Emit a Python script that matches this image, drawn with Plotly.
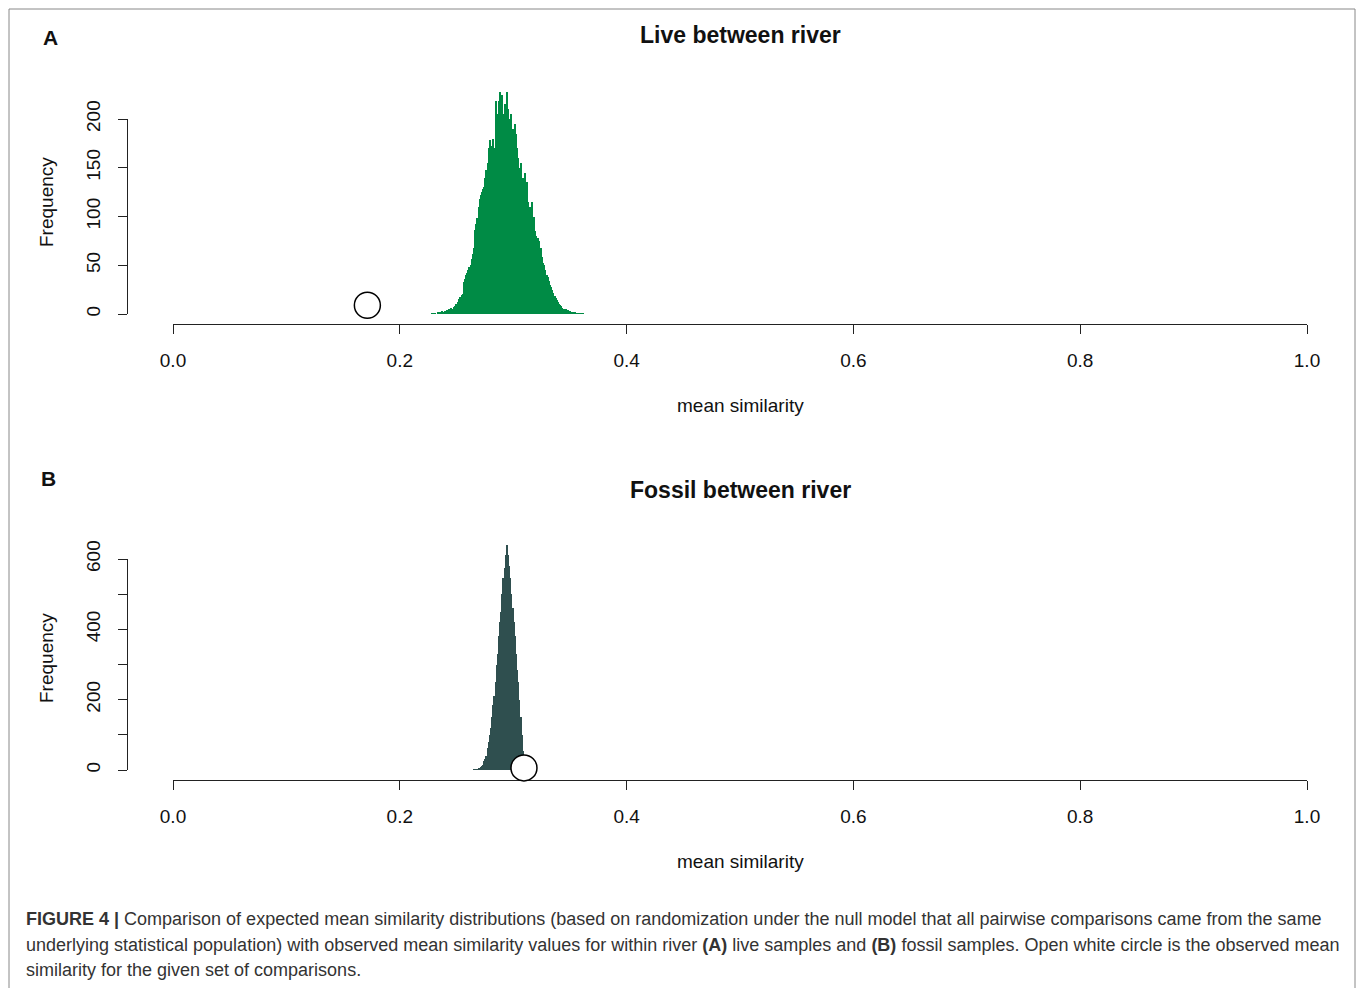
import plotly.graph_objects as go
import numpy as np

W, H = 1357, 988

# ---------------- data ----------------
bin_width = 0.001

live_bin_start = 0.228
live_counts = [1, 0, 1, 1, 0, 2, 1, 2, 1, 3, 2,
               3, 2, 4, 3, 5, 4, 6, 5, 7,
               8, 10, 9, 12,
               15, 17, 19, 21,
               33, 36, 40,
               42, 45, 48, 50,
               56, 62, 68,
               86, 92, 98,
               110, 118, 122,
               125, 128, 130,
               140, 148, 155,
               170, 178, 172,
               165, 180, 170,
               218, 175, 205,
               218, 228, 212,
               225, 205, 215,
               195, 228, 210,
               200, 188, 205,
               190, 180, 195,
               185, 170, 160,
               150, 155, 140,
               140, 130, 145,
               125, 135, 115,
               110, 100, 115,
               95, 100, 85,
               80, 78, 75,
               65, 68, 58,
               52, 50, 45,
               40, 38, 34,
               30, 28, 25,
               22, 18, 16,
               14, 12, 10,
               9, 8, 6,
               5, 4, 5,
               3, 4, 2,
               3, 2, 2,
               1, 2, 1,
               1, 0, 1, 1,
               0, 1, 0]

fossil_bin_start = 0.265
fossil_counts = [1, 1, 2, 1, 3, 6, 9, 12, 15, 25, 32, 40, 62, 80, 100, 120,
                 150, 185, 210, 250, 300, 330, 380, 420, 450, 500, 545, 575,
                 610, 640, 610, 580, 545, 500, 460, 420, 380, 330, 285, 250,
                 200, 150, 100, 55, 20, 5]

live_observed_x = [0.1714]
live_observed_y = [9]
fossil_observed_x = [0.3095]
fossil_observed_y = [6]

x_ticks = [0.0, 0.2, 0.4, 0.6, 0.8, 1.0]
x_ticklabels = ["0.0", "0.2", "0.4", "0.6", "0.8", "1.0"]
live_y_ticks = [0, 50, 100, 150, 200]
live_y_ticklabels = ["0", "50", "100", "150", "200"]
fossil_y_ticks = [0, 100, 200, 300, 400, 500, 600]
fossil_y_ticklabels = ["0", "", "200", "", "400", "", "600"]

title_a = "Live between river"
title_b = "Fossil between river"
x_label = "mean similarity"
y_label = "Frequency"

caption_lines = [
    "<b>FIGURE 4 |</b> Comparison of expected mean similarity distributions (based on randomization under the null model that all pairwise comparisons came from the same",
    "underlying statistical population) with observed mean similarity values for within river <b>(A)</b> live samples and <b>(B)</b> fossil samples. Open white circle is the observed mean",
    "similarity for the given set of comparisons.",
]

live_color = "#008B45"
fossil_color = "#2F4F4F"

# ---------------- helpers ----------------
def px_x(p):
    return p / W

def px_y(p):
    return 1 - p / H

FONT = "Liberation Sans, Arial, Helvetica, sans-serif"
AX = "#222222"

live_centers = live_bin_start + bin_width * (np.arange(len(live_counts)) + 0.5)
fossil_centers = fossil_bin_start + bin_width * (np.arange(len(fossil_counts)) + 0.5)

fig = go.Figure()

fig.add_trace(go.Bar(x=live_centers, y=live_counts, width=bin_width,
                     marker=dict(color=live_color, line=dict(width=0)),
                     xaxis="x", yaxis="y", showlegend=False))
fig.add_trace(go.Scatter(x=live_observed_x, y=live_observed_y, mode="markers",
                         marker=dict(symbol="circle", size=26, color="white",
                                     line=dict(color="black", width=1.5)),
                         cliponaxis=False, xaxis="x", yaxis="y2", showlegend=False))

fig.add_trace(go.Bar(x=fossil_centers, y=fossil_counts, width=bin_width,
                     marker=dict(color=fossil_color, line=dict(width=0)),
                     xaxis="x2", yaxis="y3", showlegend=False))
fig.add_trace(go.Scatter(x=fossil_observed_x, y=fossil_observed_y, mode="markers",
                         marker=dict(symbol="circle", size=26, color="white",
                                     line=dict(color="black", width=1.5)),
                         cliponaxis=False, xaxis="x2", yaxis="y4", showlegend=False))

x_dom = [px_x(173), px_x(1307)]
tickfont = dict(family=FONT, size=19, color="#111111")

def xaxis_def(pos_px):
    return dict(domain=x_dom, range=[0, 1], anchor="free", position=px_y(pos_px),
                showline=True, linecolor=AX, linewidth=1, ticks="outside",
                ticklen=9, tickwidth=1, tickcolor=AX, tickvals=x_ticks,
                ticktext=x_ticklabels, tickfont=tickfont, showgrid=False,
                zeroline=False, ticklabelstandoff=10, fixedrange=True,
                automargin=False)

def yaxis_disp(bottom_px, top_px, rng, tv, tt):
    return dict(domain=[px_y(bottom_px), px_y(top_px)], range=rng, anchor="free",
                position=px_x(127), showline=True, linecolor=AX, linewidth=1,
                ticks="outside", ticklen=9, tickwidth=1, tickcolor=AX,
                tickvals=tv, ticktext=tt, tickangle=-90, tickfont=tickfont,
                showgrid=False, zeroline=False, ticklabelstandoff=10, fixedrange=True,
                automargin=False)

# scale of panels (px per unit)
a_scale = (314 - 119) / 200.0
b_scale = (770 - 559) / 600.0

fig.update_layout(
    width=W, height=H, autosize=False,
    margin=dict(l=0, r=0, t=0, b=0, pad=0, autoexpand=False),
    paper_bgcolor="white", plot_bgcolor="rgba(0,0,0,0)", bargap=0,
    xaxis=xaxis_def(324),
    yaxis=dict(domain=[px_y(314), px_y(60)], range=[0, (314 - 60) / a_scale],
               anchor="x", visible=False, fixedrange=True, automargin=False),
    yaxis2=yaxis_disp(314, 119, [0, 200], live_y_ticks, live_y_ticklabels),
    xaxis2=xaxis_def(780),
    yaxis3=dict(domain=[px_y(770), px_y(520)], range=[0, (770 - 520) / b_scale],
                anchor="x2", visible=False, fixedrange=True, automargin=False),
    yaxis4=yaxis_disp(770, 559, [0, 600], fossil_y_ticks, fossil_y_ticklabels),
)

ann = []
def add_text(text, x, y, size, bold=False, angle=0, xanchor="center", color="#111111"):
    ann.append(dict(text=("<b>%s</b>" % text) if bold else text, x=px_x(x), y=px_y(y),
                    xref="paper", yref="paper", showarrow=False, xanchor=xanchor,
                    yanchor="middle", textangle=angle,
                    font=dict(family=FONT, size=size, color=color)))

add_text("A", 50, 37, 21, bold=True)
add_text("B", 48, 478, 21, bold=True)
add_text(title_a, 740, 35, 23, bold=True)
add_text(title_b, 740, 490, 23, bold=True)
add_text(x_label, 740, 405, 19)
add_text(x_label, 740, 861, 19)
add_text(y_label, 46, 202, 19, angle=-90)
add_text(y_label, 46, 658, 19, angle=-90)

for i, line in enumerate(caption_lines):
    add_text(line, 24, 919 + i * 25.5, 18, xanchor="left", color="#333333")

fig.update_layout(annotations=ann)

border = "#888888"
fig.update_layout(shapes=[
    dict(type="line", xref="paper", yref="paper", x0=px_x(9), x1=px_x(1355),
         y0=px_y(9), y1=px_y(9), line=dict(color=border, width=1)),
    dict(type="line", xref="paper", yref="paper", x0=px_x(9), x1=px_x(9),
         y0=px_y(9), y1=px_y(995), line=dict(color=border, width=1)),
    dict(type="line", xref="paper", yref="paper", x0=px_x(1355), x1=px_x(1355),
         y0=px_y(9), y1=px_y(995), line=dict(color=border, width=1)),
])

fig.write_html("out.html", config={"displayModeBar": False},
               post_script="document.body.style.margin='0';document.body.style.overflow='hidden';")
